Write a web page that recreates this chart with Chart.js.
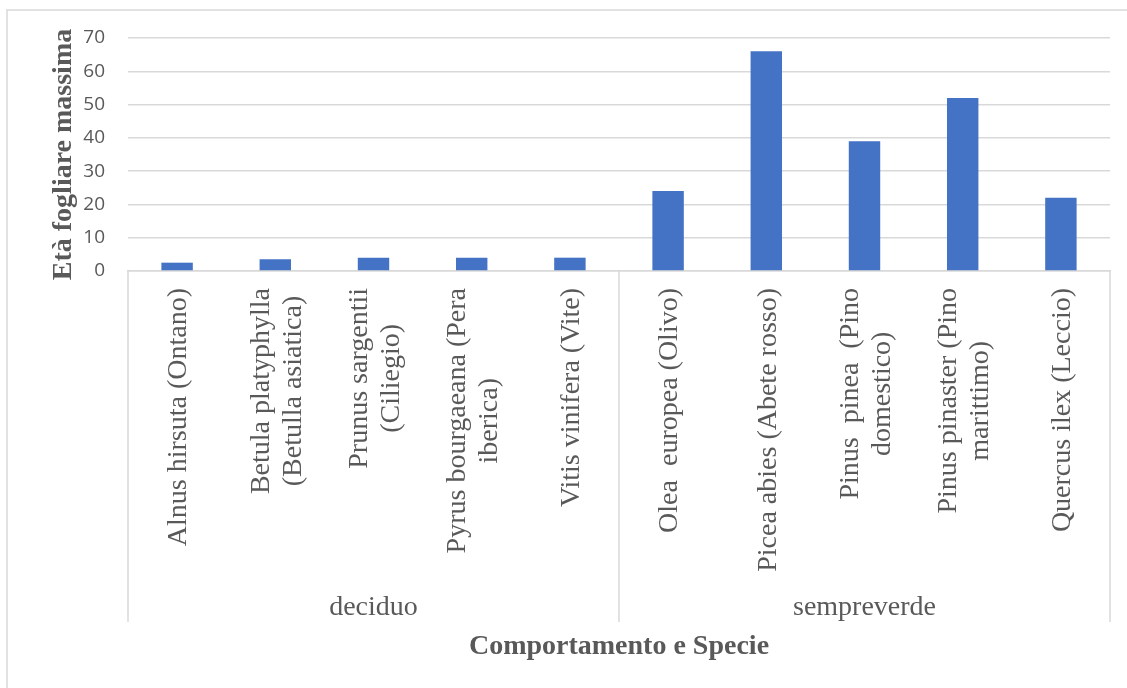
<!DOCTYPE html>
<html lang="it">
<head>
<meta charset="utf-8">
<title>Età fogliare massima per specie</title>
<script src="https://cdn.jsdelivr.net/npm/chart.js@4/dist/chart.umd.min.js"></script>
<style>
  html, body { margin: 0; padding: 0; background: #ffffff; }
  #wrap { position: relative; width: 1127px; height: 688px; }
</style>
</head>
<body>
<div id="wrap"><canvas id="chart" width="1127" height="688"></canvas></div>
<script>
// Specie (etichette su più righe) e gruppi di comportamento
const categories = [
  ['Alnus hirsuta (Ontano)'],
  ['Betula platyphylla', '(Betulla asiatica)'],
  ['Prunus sargentii', '(Ciliegio)'],
  ['Pyrus bourgaeana (Pera', 'iberica)'],
  ['Vitis vinifera (Vite)'],
  ['Olea  europea (Olivo)'],
  ['Picea abies (Abete rosso)'],
  ['Pinus  pinea  (Pino', 'domestico)'],
  ['Pinus pinaster (Pino', 'marittimo)'],
  ['Quercus ilex (Leccio)']
];
const groups = ['deciduo', 'sempreverde'];
const groupSizes = [5, 5];
const values = [2.5, 3.5, 4, 4, 4, 24, 66, 39, 52, 22];
const yTicks = [0, 10, 20, 30, 40, 50, 60, 70];

const TEXT = '#595959';
const LINE = '#d9d9d9';
const SERIF = '"Liberation Serif", "Times New Roman", serif';

// Etichette di categoria ruotate, gruppi, separatori e cornice
const groupedAxis = {
  id: 'groupedAxis',
  beforeDraw(chart) {
    const ctx = chart.ctx;
    ctx.save();
    ctx.strokeStyle = LINE;
    ctx.lineWidth = 1.5;
    ctx.beginPath();
    ctx.moveTo(7, chart.height);
    ctx.lineTo(7, 10);
    ctx.lineTo(chart.width, 10);
    ctx.stroke();
    ctx.restore();
  },
  afterDraw(chart) {
    const ctx = chart.ctx;
    const x = chart.scales.x;
    const area = chart.chartArea;
    const top = area.bottom;
    ctx.save();

    // etichette delle specie
    ctx.fillStyle = TEXT;
    ctx.font = '28px ' + SERIF;
    ctx.textAlign = 'center';
    ctx.textBaseline = 'middle';
    const lineH = 32;
    categories.forEach((lines, i) => {
      const px = x.getPixelForTick(i);
      const maxW = Math.max(...lines.map(l => ctx.measureText(l).width));
      ctx.save();
      ctx.translate(px + 2, top + 17);
      ctx.rotate(-Math.PI / 2);
      lines.forEach((l, j) => {
        ctx.fillText(l, -maxW / 2, (j - (lines.length - 1) / 2) * lineH);
      });
      ctx.restore();
    });

    // separatori dei gruppi
    const half = (x.getPixelForTick(1) - x.getPixelForTick(0)) / 2;
    const sepBottom = top + 351;
    const seps = [area.left];
    let acc = 0;
    groupSizes.forEach(n => {
      acc += n;
      seps.push(acc === categories.length ? area.right : x.getPixelForTick(acc - 1) + half);
    });
    ctx.strokeStyle = LINE;
    ctx.lineWidth = 1.5;
    ctx.beginPath();
    seps.forEach(sx => {
      ctx.moveTo(sx, top);
      ctx.lineTo(sx, sepBottom);
    });
    ctx.stroke();

    // nomi dei gruppi
    ctx.textBaseline = 'alphabetic';
    ctx.textAlign = 'center';
    groups.forEach((g, k) => {
      ctx.fillText(g, (seps[k] + seps[k + 1]) / 2, top + 344);
    });
    ctx.restore();
  }
};

new Chart(document.getElementById('chart'), {
  type: 'bar',
  data: {
    labels: categories,
    datasets: [{
      label: 'Età fogliare massima',
      data: values,
      backgroundColor: '#4472c4',
      borderWidth: 0,
      barPercentage: 0.32,
      categoryPercentage: 1.0
    }]
  },
  options: {
    responsive: false,
    animation: false,
    devicePixelRatio: 1,
    layout: { padding: { top: 38, right: 17, bottom: 0, left: 0 } },
    plugins: {
      legend: { display: false },
      tooltip: { enabled: false }
    },
    scales: {
      x: {
        type: 'category',
        offset: true,
        grid: { display: false, drawTicks: false },
        border: { display: true, color: LINE, width: 1.5 },
        ticks: { display: false },
        title: {
          display: true,
          text: 'Comportamento e Specie',
          color: TEXT,
          font: { family: SERIF, size: 28, weight: 'bold' },
          padding: { top: 0, bottom: 24 }
        },
        afterFit(scale) { scale.height = 417; }
      },
      y: {
        min: 0,
        max: 70,
        afterBuildTicks(scale) { scale.ticks = yTicks.map(v => ({ value: v })); },
        grid: { color: LINE, lineWidth: 1.5, drawTicks: false },
        border: { display: false },
        ticks: {
          color: TEXT,
          padding: 23,
          font: { family: '"Open Sans", sans-serif', size: 19 }
        },
        title: {
          display: true,
          text: 'Età fogliare massima',
          color: TEXT,
          font: { family: SERIF, size: 28, weight: 'bold' },
          padding: { top: 47, bottom: 0 }
        },
        afterFit(scale) { scale.width = 128; }
      }
    }
  },
  plugins: [groupedAxis]
});
</script>
</body>
</html>
